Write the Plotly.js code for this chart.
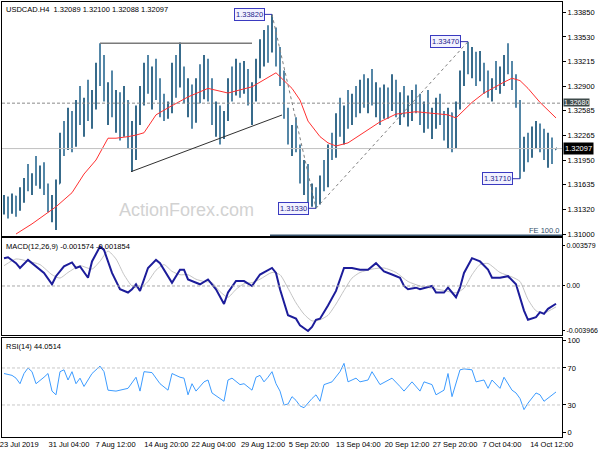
<!DOCTYPE html>
<html>
<head>
<meta charset="utf-8">
<script src="https://cdn.plot.ly/plotly-3.0.1.min.js"></script>
<style>html,body{margin:0;padding:0;background:#fff;}#chart{width:600px;height:450px;}</style>
</head>
<body>
<div id="chart"></div>
<script>
// ---- Price bars (USDCAD H4) ----
const opens = [1.3130,1.3145,1.3128,1.3148,1.3131,1.3155,1.3168,1.3160,1.3172,1.3168,
1.3182,1.3155,1.3135,1.3140,1.3165,1.3222,1.3210,1.3255,1.3215,1.3265,
1.3248,1.3270,1.3252,1.3280,1.3315,1.3300,1.3275,1.3290,1.3255,1.3280,
1.3228,1.3270,1.3218,1.3235,1.3258,1.3285,1.3310,1.3290,1.3305,1.3280,
1.3262,1.3250,1.3265,1.3312,1.3290,1.3305,1.3272,1.3290,1.3245,1.3295,
1.3275,1.3322,1.3280,1.3248,1.3262,1.3228,1.3250,1.3295,1.3280,1.3318,
1.3285,1.3310,1.3272,1.3290,1.3318,1.3330,1.3355,1.3335,1.3350,1.3322,
1.3300,1.3255,1.3225,1.3235,1.3210,1.3172,1.3185,1.3148,1.3158,1.3140,
1.3170,1.3162,1.3208,1.3200,1.3248,1.3235,1.3258,1.3245,1.3275,1.3258,
1.3290,1.3270,1.3295,1.3275,1.3285,1.3250,1.3285,1.3260,1.3295,1.3258,
1.3275,1.3255,1.3270,1.3280,1.3262,1.3248,1.3265,1.3240,1.3255,1.3270,
1.3245,1.3228,1.3255,1.3212,1.3265,1.3302,1.3325,1.3315,1.3332,1.3298,
1.3318,1.3290,1.3282,1.3295,1.3288,1.3305,1.3325,1.3310,1.3292,1.3270,
1.3185,1.3215,1.3200,1.3232,1.3240,1.3212,1.3200,1.3222,1.32089];
const highs = [1.3150,1.3148,1.3152,1.3149,1.3160,1.3172,1.3190,1.3178,1.3200,1.3188,
1.3192,1.3165,1.3150,1.3170,1.3230,1.3245,1.3262,1.3258,1.3272,1.3290,
1.3275,1.3298,1.3285,1.3320,1.3345,1.3330,1.3295,1.3310,1.3285,1.3282,
1.3290,1.3272,1.3245,1.3265,1.3290,1.3320,1.3330,1.3315,1.3325,1.3300,
1.3280,1.3270,1.3320,1.3330,1.3346,1.3315,1.3300,1.3292,1.3300,1.3318,
1.3330,1.3325,1.3300,1.3270,1.3265,1.3258,1.3300,1.3315,1.3325,1.3320,
1.3322,1.3312,1.3295,1.3325,1.3350,1.3362,1.3368,1.3382,1.3365,1.3340,
1.3310,1.3262,1.3240,1.3250,1.3215,1.3195,1.3190,1.3165,1.3160,1.3175,
1.3195,1.3215,1.3230,1.3255,1.3275,1.3265,1.3285,1.3280,1.3290,1.3298,
1.3305,1.3300,1.3312,1.3295,1.3288,1.3292,1.3288,1.3305,1.3298,1.3282,
1.3290,1.3278,1.3285,1.3292,1.3280,1.3270,1.3285,1.3262,1.3275,1.3280,
1.3258,1.3262,1.3256,1.3270,1.3310,1.3335,1.3347,1.3340,1.3334,1.3335,
1.3320,1.3310,1.3300,1.3322,1.3315,1.3330,1.3345,1.3322,1.3305,1.3272,
1.3225,1.3230,1.3238,1.3245,1.3242,1.3235,1.3230,1.3224,1.32100];
const lows = [1.3125,1.3120,1.3126,1.3122,1.3130,1.3140,1.3155,1.3150,1.3162,1.3158,
1.3150,1.3128,1.3115,1.3105,1.3165,1.3200,1.3208,1.3205,1.3212,1.3240,
1.3225,1.3245,1.3235,1.3260,1.3290,1.3270,1.3240,1.3250,1.3230,1.3220,
1.3225,1.3210,1.3180,1.3195,1.3240,1.3265,1.3280,1.3260,1.3272,1.3250,
1.3245,1.3248,1.3255,1.3275,1.3288,1.3268,1.3250,1.3235,1.3243,1.3268,
1.3273,1.3270,1.3240,1.3225,1.3215,1.3222,1.3245,1.3270,1.3278,1.3275,
1.3280,1.3265,1.3240,1.3270,1.3300,1.3315,1.3320,1.3333,1.3315,1.3290,
1.3248,1.3215,1.3200,1.3205,1.3165,1.3150,1.3140,1.3135,1.3133,1.3138,
1.3155,1.3160,1.3195,1.3198,1.3225,1.3215,1.3235,1.3240,1.3250,1.3255,
1.3262,1.3255,1.3265,1.3250,1.3240,1.3248,1.3248,1.3258,1.3250,1.3240,
1.3250,1.3238,1.3245,1.3255,1.3240,1.3230,1.3235,1.3222,1.3235,1.3240,
1.3220,1.3210,1.3205,1.3210,1.3260,1.3290,1.3305,1.3300,1.3290,1.3296,
1.3280,1.3275,1.3270,1.3285,1.3280,1.3290,1.3305,1.3285,1.3262,1.3171,
1.3180,1.3192,1.3198,1.3210,1.3205,1.3195,1.3185,1.3190,1.32088];
const closes = [1.3145,1.3128,1.3148,1.3127,1.3155,1.3168,1.3160,1.3172,1.3168,1.3182,
1.3155,1.3135,1.3140,1.3165,1.3222,1.3210,1.3255,1.3215,1.3265,1.3248,
1.3270,1.3252,1.3280,1.3315,1.3300,1.3275,1.3290,1.3255,1.3280,1.3228,
1.3270,1.3218,1.3235,1.3258,1.3285,1.3310,1.3290,1.3305,1.3280,1.3262,
1.3250,1.3265,1.3312,1.3290,1.3305,1.3272,1.3290,1.3245,1.3295,1.3275,
1.3322,1.3280,1.3248,1.3262,1.3228,1.3250,1.3295,1.3280,1.3318,1.3285,
1.3310,1.3272,1.3290,1.3318,1.3330,1.3355,1.3335,1.3350,1.3322,1.3300,
1.3255,1.3225,1.3235,1.3210,1.3172,1.3185,1.3148,1.3158,1.3140,1.3170,
1.3162,1.3208,1.3200,1.3248,1.3235,1.3258,1.3245,1.3275,1.3258,1.3290,
1.3270,1.3295,1.3275,1.3285,1.3250,1.3285,1.3260,1.3295,1.3258,1.3275,
1.3255,1.3270,1.3280,1.3262,1.3248,1.3265,1.3240,1.3255,1.3270,1.3245,
1.3228,1.3255,1.3212,1.3265,1.3302,1.3325,1.3315,1.3332,1.3298,1.3318,
1.3290,1.3282,1.3295,1.3288,1.3305,1.3325,1.3310,1.3292,1.3270,1.3185,
1.3215,1.3200,1.3232,1.3240,1.3212,1.3200,1.3222,1.3205,1.32097];

// ---- Moving average (red) ----
const maIdx = [3,7,13,17,20,23,26,28,31,33,35,38,41,46,51,56,62,68,72,74,76,79,81,83,86,91,94,98,103,107,111,113,115,117,120,122,125,127,129,131,134,138];
const maVal = [1.3100,1.3113,1.3135,1.3153,1.3177,1.3195,1.3223,1.3223,1.3225,1.3227,1.3230,1.3253,1.3262,1.3276,1.3287,1.3281,1.3289,1.3307,1.3287,1.3272,1.3245,1.3225,1.3217,1.3213,1.3217,1.3234,1.3244,1.3254,1.3257,1.3255,1.3253,1.3249,1.3259,1.3269,1.3281,1.3287,1.3295,1.3300,1.3297,1.3287,1.3269,1.3249];

// ---- MACD(12,26,9) ----
const macdIdx = [0,1,3,4,6,7,9,10,12,13,15,17,18,19,21,22,24,25,27,29,31,32,33,34,36,38,39,42,44,45,46,49,51,53,55,56,58,60,62,64,67,68,69,71,73,74,76,77,78,79,81,83,85,87,89,91,93,95,97,99,100,101,103,104,107,108,110,111,113,114,115,117,119,121,122,124,126,128,130,131,133,134,135,136,138];
const macdVal = [0.00247,0.00255,0.00203,0.0016,0.00232,0.00203,0.00145,0.00116,0.00015,0.00087,
0.00174,0.00209,0.0016,0.00174,0.00073,0.00218,0.0035,0.0032,0.00116,-0.00029,
-0.00058,-0.00029,0.00015,-0.00044,0.0016,0.00232,0.00203,0.00029,0.00145,0.00145,
0.00058,0.00015,0.00058,-0.00029,-0.0016,-0.00058,0.00044,0.00044,0.0,0.00102,
0.0016,0.00116,-0.00029,-0.0026,-0.0029,-0.0035,-0.0040,-0.00363,-0.003,-0.0029,
-0.00174,-0.00044,0.0016,0.0016,0.00145,0.00145,0.00203,0.0013,0.00102,0.00073,
0.0,-0.00029,-0.00015,-0.00029,0.0,-0.00058,-0.00058,-0.00015,-0.001,-0.00015,
0.00116,0.00247,0.00218,0.00145,0.00073,0.00073,0.00087,0.00015,-0.00218,-0.003,
-0.00276,-0.00232,-0.00247,-0.00203,-0.001574];
const sigIdx = [0,3,6,9,12,14,16,19,22,24,26,28,30,32,34,36,38,40,42,44,46,48,50,52,54,56,58,60,62,64,67,69,71,73,75,77,79,81,83,85,87,89,92,95,98,101,104,107,110,113,115,117,119,121,124,127,129,131,133,135,138];
const sigVal = [0.0018,0.0024,0.0022,0.0019,0.0010,0.0007,0.0012,0.0018,0.0015,0.0022,
0.0031,0.0024,0.0010,0.0000,-0.0002,0.0004,0.0014,0.0019,0.0013,0.0010,
0.0010,0.0006,0.0004,0.0003,-0.0005,-0.0010,-0.0003,0.0002,0.0003,0.0006,
0.0012,0.0010,-0.0002,-0.0015,-0.0025,-0.0031,-0.0030,-0.0026,-0.0016,-0.0004,
0.0007,0.0012,0.0015,0.0016,0.0012,0.0004,0.0000,-0.0002,-0.0004,-0.0006,
-0.0002,0.0010,0.0019,0.0020,0.0012,0.0008,0.0004,-0.0012,-0.0022,-0.0024,
-0.001854];

// ---- RSI(14) ----
const rsiIdx = [0,1,2,3,4,5,6,7,8,10,11,12,13,14,15,16,17,18,19,20,22,24,25,26,28,30,31,33,34,35,37,39,41,42,44,45,46,47,48,50,51,52,54,55,56,57,59,60,62,63,64,65,66,67,68,69,70,71,72,73,74,75,77,78,79,80,82,84,85,86,88,89,91,92,94,96,97,99,100,102,104,105,107,108,110,111,112,114,115,117,118,120,121,122,124,125,127,128,129,130,131,133,134,135,137,138];
const rsiVal = [64,63,62,59,53,64,70,66,53,60,64,45,41,66,68,57,66,53,59,50,
64,72,66,46,45,47,48,60,45,66,65,53,46,64,60,59,41,53,45,55,
57,43,37,34,57,59,52,53,46,60,62,55,60,66,53,45,30,31,39,35,
29,27,37,41,34,52,55,66,75,55,59,55,57,66,52,57,59,50,45,55,
45,55,52,41,46,64,39,68,69,68,55,57,48,57,48,60,46,43,37,25,
32,43,41,34,41,44.05];

// ---- Axis labels ----
const timeLabels = ['23 Jul 2019','31 Jul 04:00','7 Aug 12:00','14 Aug 20:00','22 Aug 04:00','29 Aug 12:00','5 Sep 20:00','13 Sep 04:00','20 Sep 12:00','27 Sep 20:00','7 Oct 04:00','14 Oct 12:00'];
const timeLabelPos = [3.8,16.25,27.9,40.6,52.4,64.75,76.25,88.6,100.75,112.75,124.5,136.9];
const priceTicks = [1.31000,1.31320,1.31635,1.31950,1.32265,1.32585,1.32900,1.33215,1.33530,1.33850];
const macdTicks = [0.003579,0,-0.003966];
const macdTickText = ['0.003579','0.00','-0.003966'];
const rsiTicks = [100,70,30,0];

const barIdx = opens.map((_, i) => i);
const FONT = 'Liberation Sans, Arial, sans-serif';

const traces = [
  {type:'ohlc', x:barIdx, open:opens, high:highs, low:lows, close:closes,
   xaxis:'x', yaxis:'y', tickwidth:0.25, hoverinfo:'skip',
   increasing:{line:{color:'#386b8b', width:2}}, decreasing:{line:{color:'#5587a7', width:2}}},
  {type:'scatter', mode:'lines', x:maIdx, y:maVal, xaxis:'x', yaxis:'y',
   line:{color:'#ff3030', width:1}, hoverinfo:'skip'},
  {type:'scatter', mode:'lines', x:sigIdx, y:sigVal, xaxis:'x2', yaxis:'y2',
   line:{color:'#c4c4c4', width:1, shape:'spline', smoothing:0.6}, hoverinfo:'skip'},
  {type:'scatter', mode:'lines', x:macdIdx, y:macdVal, xaxis:'x2', yaxis:'y2',
   line:{color:'#1c1c9a', width:2}, hoverinfo:'skip'},
  {type:'scatter', mode:'lines', x:rsiIdx, y:rsiVal, xaxis:'x3', yaxis:'y3',
   line:{color:'#3d9cff', width:1}, hoverinfo:'skip'}
];

const xBase = {range:[-0.5,139.5], showgrid:false, zeroline:false, showline:true, mirror:true,
  linecolor:'#000', linewidth:1, ticks:'', fixedrange:true};
const yBase = {side:'right', showgrid:false, zeroline:false, showline:true, mirror:true,
  linecolor:'#000', linewidth:1, ticks:'outside', ticklen:3, tickcolor:'#000',
  ticklabeloverflow:'allow', tickfont:{family:FONT, size:7.5, color:'#000'}, fixedrange:true};

const boxLabel = (xi, price, txt) => ({x:xi, y:price, xref:'x', yref:'y', text:txt,
  showarrow:true, arrowhead:0, arrowwidth:1, arrowcolor:'#3030b0', ax:-23, ay:0, standoff:0,
  font:{family:FONT, size:7.5, color:'#1c1c8c'}, bgcolor:'#f2f2ff', bordercolor:'#3a3ac0',
  borderwidth:1, borderpad:1});

const layout = {
  width:600, height:450, margin:{l:2, r:38, t:2, b:13},
  paper_bgcolor:'#fff', plot_bgcolor:'#fff', showlegend:false,
  xaxis: Object.assign({}, xBase, {anchor:'y', showticklabels:false, rangeslider:{visible:false}}),
  xaxis2: Object.assign({}, xBase, {anchor:'y2', matches:'x', showticklabels:false}),
  xaxis3: Object.assign({}, xBase, {anchor:'y3', matches:'x', tickmode:'array',
    tickvals:timeLabelPos, ticktext:timeLabels, showticklabels:true, ticklabeloverflow:'allow',
    tickfont:{family:FONT, size:7.5, color:'#000'}}),
  yaxis: Object.assign({}, yBase, {anchor:'x', domain:[0.462,1], range:[1.30974,1.33979],
    tickmode:'array', tickvals:priceTicks, ticktext:priceTicks.map(v => v.toFixed(5))}),
  yaxis2: Object.assign({}, yBase, {anchor:'x2', domain:[0.2345,0.4575], range:[-0.004351,0.004262],
    tickmode:'array', tickvals:macdTicks, ticktext:macdTickText, ticklen:2,
    tickfont:{family:FONT, size:7, color:'#000'}}),
  yaxis3: Object.assign({}, yBase, {anchor:'x3', domain:[0,0.2276], range:[-4.6,102.4],
    tickmode:'array', tickvals:rsiTicks, ticktext:rsiTicks.map(String)}),
  shapes: [
    {type:'line', xref:'x domain', yref:'y', x0:0, x1:1, y0:1.32097, y1:1.32097, line:{color:'#c0c0c0', width:1}},
    {type:'line', xref:'x domain', yref:'y', x0:0, x1:1, y0:1.32680, y1:1.32680, line:{color:'#8a8a8a', width:1, dash:'3px,2px'}},
    {type:'line', xref:'x', yref:'y', x0:24, x1:62, y0:1.3345, y1:1.3345, line:{color:'#7a7a7a', width:1.5}},
    {type:'line', xref:'x', yref:'y', x0:31.75, x1:69.5, y0:1.3180, y1:1.32528, line:{color:'#303030', width:1}},
    {type:'line', xref:'x', yref:'y', x0:67, x1:78, y0:1.3382, y1:1.3133, line:{color:'#808080', width:1, dash:'dot'}},
    {type:'line', xref:'x', yref:'y', x0:78, x1:116, y0:1.3133, y1:1.3347, line:{color:'#808080', width:1, dash:'dot'}},
    {type:'line', xref:'x', yref:'y', x0:66.5, x1:139.5, y0:1.3098, y1:1.3098, line:{color:'#34506a', width:2}},
    {type:'line', xref:'x2 domain', yref:'y2', x0:0, x1:1, y0:0, y1:0, line:{color:'#a8a8a8', width:1, dash:'3px,2px'}},
    {type:'line', xref:'x3 domain', yref:'y3', x0:0, x1:1, y0:70, y1:70, line:{color:'#c8c8c8', width:1, dash:'3px,2px'}},
    {type:'line', xref:'x3 domain', yref:'y3', x0:0, x1:1, y0:30, y1:30, line:{color:'#c8c8c8', width:1, dash:'3px,2px'}}
  ],
  annotations: [
    {xref:'x domain', yref:'y domain', x:0, y:1, xanchor:'left', yanchor:'top', xshift:2, yshift:-1,
     text:'USDCAD.H4\u00a0\u00a01.32089 1.32100 1.32088 1.32097', showarrow:false,
     font:{family:FONT, size:7.5, color:'#000'}},
    {xref:'x2 domain', yref:'y2 domain', x:0, y:1, xanchor:'left', yanchor:'top', xshift:2, yshift:-2,
     text:'MACD(12,26,9) -0.001574 -0.001854', showarrow:false, font:{family:FONT, size:7.5, color:'#000'}},
    {xref:'x3 domain', yref:'y3 domain', x:0, y:1, xanchor:'left', yanchor:'top', xshift:2, yshift:-2,
     text:'RSI(14) 44.0514', showarrow:false, font:{family:FONT, size:7.5, color:'#000'}},
    {xref:'x domain', yref:'y', x:1, y:1.3098, xanchor:'right', yanchor:'bottom', xshift:-1, yshift:-1,
     text:'FE 100.0', showarrow:false, font:{family:FONT, size:7.5, color:'#34506a'}},
    {xref:'x domain', yref:'y', x:0.329, y:1.3131, xanchor:'center', yanchor:'middle',
     text:'ActionForex.com', showarrow:false, font:{family:FONT, size:18, color:'#d2d2d2'}},
    boxLabel(67, 1.3382, '1.33820'),
    boxLabel(116, 1.3347, '1.33470'),
    boxLabel(78, 1.3133, '1.31330'),
    boxLabel(129, 1.3171, '1.31710'),
    {xref:'paper', yref:'y', x:1, y:1.32680, xanchor:'left', yanchor:'middle', xshift:1, yshift:1, text:'1.32680',
     showarrow:false, font:{family:FONT, size:7, color:'#fff'}, bgcolor:'#3e4a4a', borderpad:0},
    {xref:'paper', yref:'y', x:1, y:1.32097, xanchor:'left', yanchor:'middle', xshift:1, text:'1.32097',
     showarrow:false, font:{family:FONT, size:7.5, color:'#fff'}, bgcolor:'#000', borderpad:1}
  ]
};

Plotly.newPlot('chart', traces, layout, {staticPlot:true, displayModeBar:false});
</script>
</body>
</html>
